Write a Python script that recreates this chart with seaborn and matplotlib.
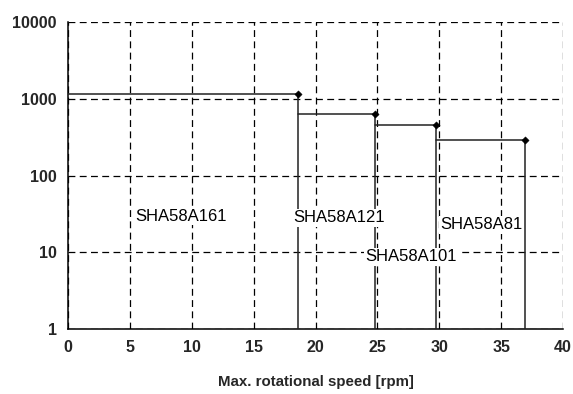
import matplotlib
matplotlib.use("Agg")
import matplotlib.pyplot as plt
import seaborn as sns
import pandas as pd
from matplotlib.ticker import FixedLocator, FixedFormatter, NullLocator

models = ["SHA58A161", "SHA58A121", "SHA58A101", "SHA58A81"]
max_rpm = [18.6, 24.8, 29.7, 36.9]
max_torque = [1160, 637, 449, 286]
step_start = [0, 18.6, 24.8, 29.7]
label_x = [5.4, 18.2, 24.0, 30.1]
label_y = [29.5, 28, 8.7, 22.7]
x_ticks = [0, 5, 10, 15, 20, 25, 30, 35, 40]
y_ticks = [1, 10, 100, 1000, 10000]
y_tick_labels = ["1", "10", "100", "1000", "10000"]
x_label = "Max. rotational speed [rpm]"

sns.set_theme(style="white")
plt.rcParams['font.family'] = ['Liberation Sans', 'DejaVu Sans']

fig = plt.figure(figsize=(5.73, 3.94), dpi=100)
ax = fig.add_axes([68/573, 1-329/394, (563-68)/573, (329-22)/394])

rows = []
for m, s, r, t in zip(models, step_start, max_rpm, max_torque):
    for i, (x, y) in enumerate([(s, t), (r, t), (r, 1)]):
        rows.append({"model": m, "order": i, "rpm": x, "torque": y})
df = pd.DataFrame(rows)
pts = pd.DataFrame({"model": models, "rpm": max_rpm, "torque": max_torque})

ax.set_yscale("log")
ax.set_xlim(0, 40)
ax.set_ylim(1, 10000)

for m in models:
    sub = df[df["model"] == m]
    sns.lineplot(data=sub, x="rpm", y="torque", sort=False, estimator=None,
                 color="#222222", lw=1.1, ax=ax, zorder=3)
sns.scatterplot(data=pts, x="rpm", y="torque", marker="D", s=14, color="black",
                edgecolor="black", ax=ax, zorder=4)

ax.xaxis.set_major_locator(FixedLocator(x_ticks))
ax.yaxis.set_major_locator(FixedLocator(y_ticks))
ax.yaxis.set_major_formatter(FixedFormatter(y_tick_labels))
ax.yaxis.set_minor_locator(NullLocator())
ax.grid(True, which="major", color="black", linestyle=(0, (5.5, 3.5)), lw=0.9)
ax.set_axisbelow(True)

for sp in ["top", "right"]:
    ax.spines[sp].set_visible(False)
for sp in ["left", "bottom"]:
    ax.spines[sp].set_color("black")
    ax.spines[sp].set_linewidth(1.1)

ax.tick_params(axis="both", which="major", direction="out", length=5, width=1,
               color="black", labelsize=11.5, pad=3)
for lbl in ax.get_xticklabels() + ax.get_yticklabels():
    lbl.set_fontweight("bold")
ax.set_xlabel(x_label, fontsize=10.8, fontweight="bold", labelpad=14)
ax.set_ylabel("")

for m, lx, ly in zip(models, label_x, label_y):
    ax.text(lx, ly, m, fontsize=12, ha="left", va="center", color="black", zorder=5,
            bbox=dict(facecolor="white", edgecolor="none", pad=1.0))

fig.savefig("out.png", dpi=100)
